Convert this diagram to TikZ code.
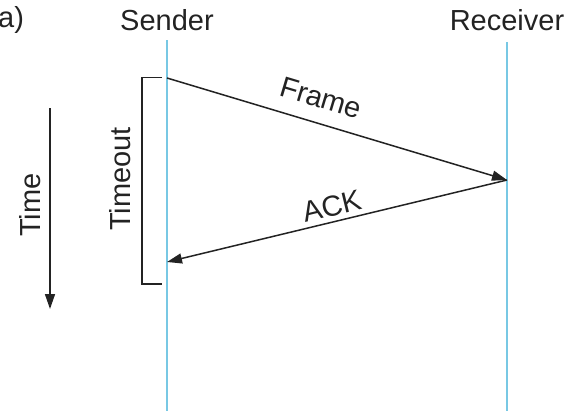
\documentclass[tikz,border=0pt]{standalone}
\usepackage{fontspec}
\setmainfont{Liberation Sans}
\usetikzlibrary{arrows.meta}
\definecolor{lifeblue}{RGB}{120,200,228}
\definecolor{ink}{RGB}{35,35,35}
\tikzset{
  lifeline/.style={draw=lifeblue, line width=1.6pt},
  msg/.style={draw=ink, line width=1.5pt, -{Triangle[length=15pt,width=10pt]}},
  lbl/.style={font=\fontsize{29}{32}\selectfont, text=ink, inner sep=0pt},
  bracketline/.style={draw=ink, line width=1.5pt}
}
\begin{document}
\begin{tikzpicture}[x=1pt,y=-1pt]
\useasboundingbox (0,0) rectangle (570,410);
% headers
\node[lbl, anchor=west] (lab) at (-2,20) {a)};
\node[lbl] (sender) at (167,20) {Sender};
\node[lbl] (receiver) at (507,20) {Receiver};
% lifelines
\coordinate (stop) at (167,40);
\coordinate (sbot) at (167,412);
\coordinate (rtop) at (507,42);
\coordinate (rbot) at (507,412);
\draw[lifeline] (stop) -- (sbot);
\draw[lifeline] (rtop) -- (rbot);
% messages
\coordinate (f0) at (167,78);
\coordinate (f1) at (507,180);
\coordinate (a1) at (167,262);
\draw[msg] (f0) -- (f1);
\draw[msg] (f1) -- (a1);
\node[lbl, rotate=-16.7] (frame) at (321,98) {Frame};
\node[lbl, rotate=13.6] (ack) at (332,206) {ACK};
% timeout bracket
\coordinate (b0) at (162,77.5);
\coordinate (b1) at (142,77.5);
\coordinate (b2) at (142,284);
\coordinate (b3) at (162,284);
\draw[bracketline] (b0) -- (b1) -- (b2) -- (b3);
\node[lbl, rotate=90] (timeout) at (120,179) {Timeout};
% time arrow
\coordinate (t0) at (50,108);
\coordinate (t1) at (50,309);
\draw[msg] (t0) -- (t1);
\node[lbl, rotate=90] (time) at (30,205) {Time};
\end{tikzpicture}
\end{document}
